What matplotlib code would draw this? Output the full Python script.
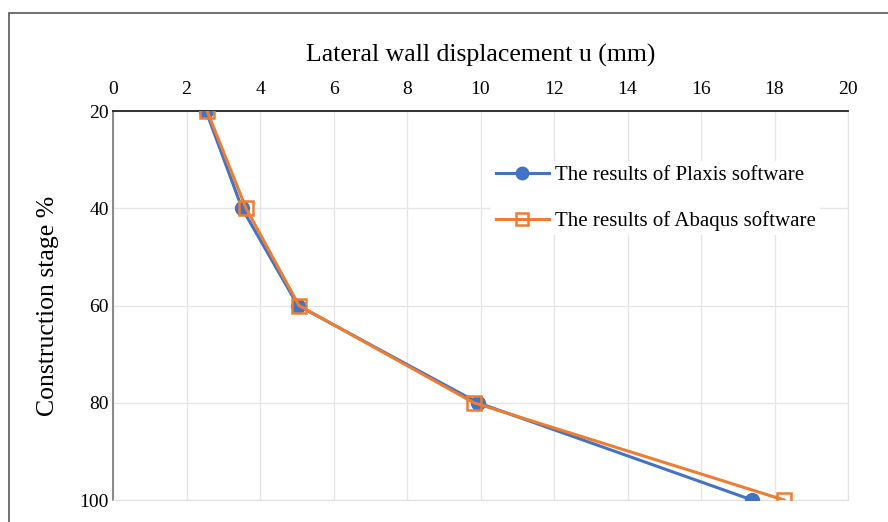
import matplotlib.pyplot as plt
from matplotlib.patches import Rectangle

plt.rcParams['font.family'] = ['Liberation Serif', 'DejaVu Serif']

stage = [20, 40, 60, 80, 100]
plaxis_u = [2.53, 3.51, 5.03, 9.93, 17.39]
abaqus_u = [2.56, 3.62, 5.06, 9.82, 18.26]

W, H = 888, 522
fig = plt.figure(figsize=(W / 100, H / 100), dpi=100)
ax = fig.add_axes([113 / W, 22 / H, 735 / W, 389 / H])

# chart area border (runs off the image on right and bottom)
fig.add_artist(Rectangle((9 / W, -0.2), 1.2, (H - 13) / H + 0.2,
                         transform=fig.transFigure, fill=False,
                         edgecolor='#595959', linewidth=1.2))

ax.plot(plaxis_u, stage, color='#4472c4', linewidth=2.2, marker='o',
        markersize=10, label='The results of Plaxis software', zorder=3)
ax.plot(abaqus_u, stage, color='#ed7d31', linewidth=2.2, marker='s',
        markersize=10, markerfacecolor='none', markeredgewidth=1.8,
        label='The results of Abaqus software', zorder=4)

ax.set_xlim(0, 20)
ax.set_ylim(100, 20)
ax.set_xticks(range(0, 21, 2))
ax.set_yticks(range(20, 101, 20))
ax.xaxis.tick_top()
ax.xaxis.set_label_position('top')
ax.tick_params(length=0, labelsize=14, pad=9)
ax.tick_params(axis='y', pad=3)
ax.set_xlabel('Lateral wall displacement u (mm)', fontsize=18.5, labelpad=14)
ax.set_ylabel('Construction stage %', fontsize=18.5, labelpad=15)

ax.grid(True, color='#e6e6e6', linewidth=1)
ax.set_axisbelow(True)
ax.spines['top'].set_color('#222222')
ax.spines['top'].set_linewidth(1.3)
ax.spines['left'].set_color('#808080')
ax.spines['left'].set_linewidth(1.3)
ax.spines['right'].set_color('#e0e0e0')
ax.spines['bottom'].set_color('#e0e0e0')

leg = ax.legend(loc='upper left', bbox_to_anchor=(368 / 735, 1 - 40 / 389),
                frameon=True, fontsize=15, handlelength=2.55,
                labelspacing=1.25, borderpad=0.2, handletextpad=0.3,
                markerscale=0.9)
leg.get_frame().set_edgecolor('none')
leg.get_frame().set_facecolor('white')
leg.get_frame().set_alpha(1)

plt.savefig('out.png', dpi=100)
